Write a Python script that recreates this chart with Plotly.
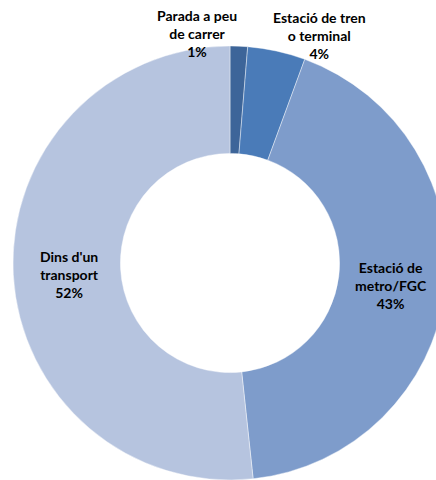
import plotly.graph_objects as go

labels = ["Parada a peu<br>de carrer", "Estació de tren<br>o terminal", "Estació de<br>metro/FGC", "Dins d'un<br>transport"]
values = [1.3, 4.3, 42.7, 51.7]
pct_text = ["1%", "4%", "43%", "52%"]
colors = ["#3d6599", "#4a7bb8", "#7e9ccb", "#b6c4df"]

W, H = 460, 480
# label centre positions in pixels (from top-left)
label_px = [(197, 34), (319, 36), (391, 285), (69, 274)]

fig = go.Figure(go.Pie(
    labels=labels,
    values=values,
    hole=0.505,
    sort=False,
    direction="clockwise",
    rotation=0,
    marker=dict(colors=colors, line=dict(color="rgba(255,255,255,0.6)", width=0.7)),
    textinfo="none",
    hoverinfo="label+percent",
    showlegend=False,
    domain=dict(x=[13 / W, 447 / W], y=[0, 434 / H]),
))

for lab, pct, (px, py) in zip(labels, pct_text, label_px):
    fig.add_annotation(
        x=px / W, y=1 - py / H, xref="paper", yref="paper",
        text=f"<b>{lab}<br>{pct}</b>", showarrow=False,
        xanchor="center", yanchor="middle", align="center",
        font=dict(family="Lato, Open Sans, sans-serif", size=14, color="#000000"),
    )

fig.update_layout(
    width=W, height=H,
    margin=dict(l=0, r=0, t=0, b=0),
    paper_bgcolor="white", plot_bgcolor="white",
)

fig.write_html("out.html", config={"displayModeBar": False},
               post_script="document.body.style.margin='0';document.body.style.overflow='hidden';")
